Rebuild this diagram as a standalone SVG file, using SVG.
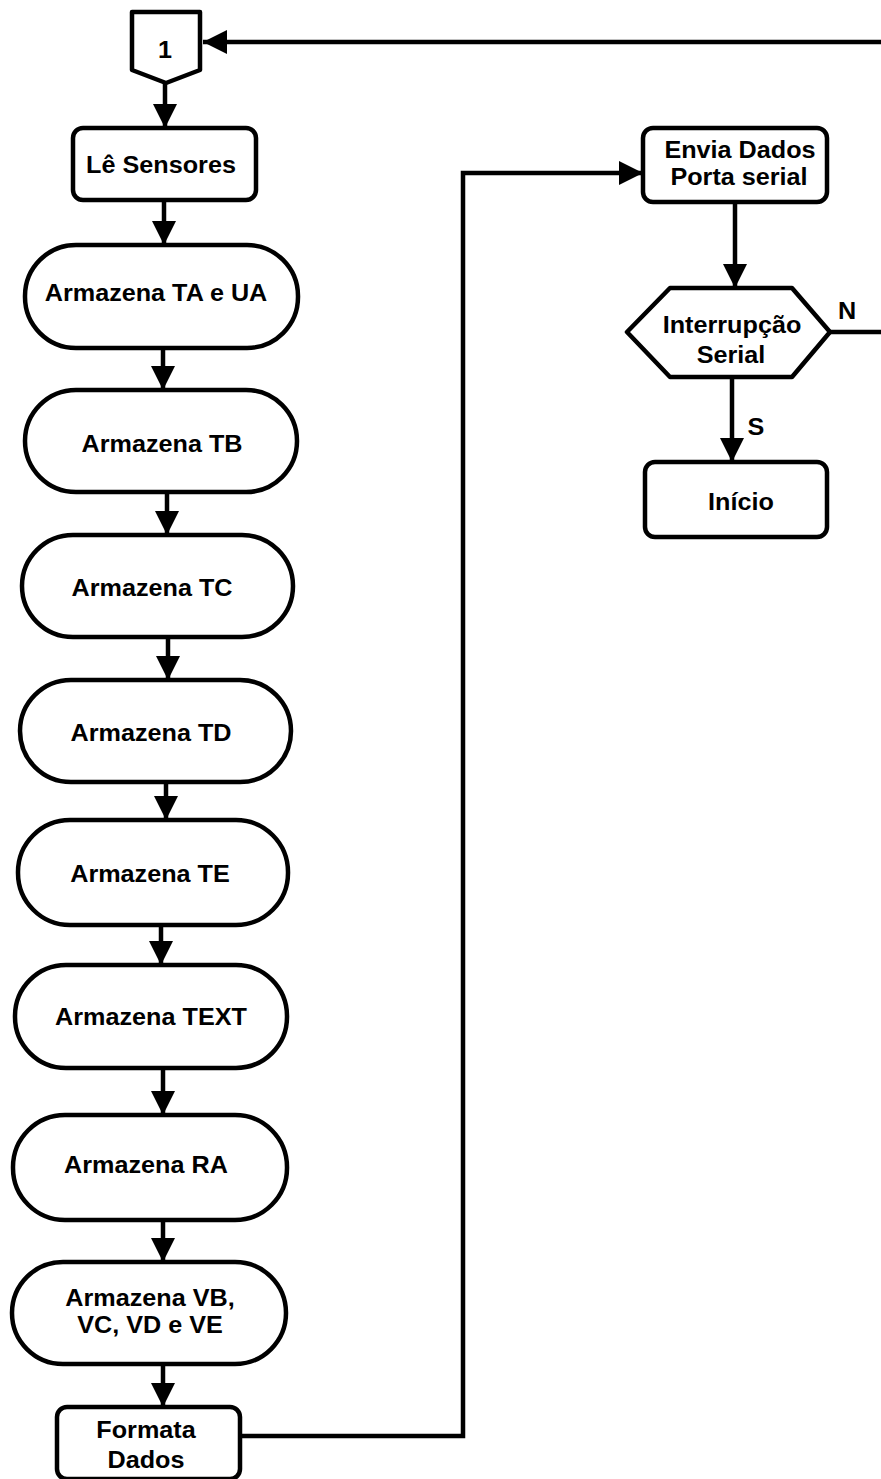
<svg xmlns="http://www.w3.org/2000/svg" width="881" height="1479" viewBox="0 0 881 1479">
  <style>
    .shape { fill: #fff; stroke: #000; stroke-width: 4.5; stroke-linejoin: round; }
    .line { fill: none; stroke: #000; stroke-width: 4.5; stroke-linejoin: miter; }
    .lbl { font-family: "Liberation Sans", Arial, sans-serif; font-weight: bold; font-size: 24px; fill: #000; text-anchor: middle; }
  </style>
  <defs>
    <marker id="arrow" viewBox="0 0 24 24" refX="24" refY="12" markerWidth="24" markerHeight="24" markerUnits="userSpaceOnUse" orient="auto">
      <path d="M0,0 L24,12 L0,24 Z" fill="#000"/>
    </marker>
  </defs>

  <!-- connectors -->
  <g id="connectors">
    <path class="line" d="M881,42 H203" marker-end="url(#arrow)"/>
    <path class="line" d="M165,83 V128" marker-end="url(#arrow)"/>
    <path class="line" d="M164,200 V245" marker-end="url(#arrow)"/>
    <path class="line" d="M163,348 V390" marker-end="url(#arrow)"/>
    <path class="line" d="M167,492 V535" marker-end="url(#arrow)"/>
    <path class="line" d="M168,637 V680" marker-end="url(#arrow)"/>
    <path class="line" d="M166,782 V820" marker-end="url(#arrow)"/>
    <path class="line" d="M161,925 V965" marker-end="url(#arrow)"/>
    <path class="line" d="M163,1068 V1115" marker-end="url(#arrow)"/>
    <path class="line" d="M163,1220 V1262" marker-end="url(#arrow)"/>
    <path class="line" d="M163,1364 V1407" marker-end="url(#arrow)"/>
    <path class="line" d="M240,1436 H463 V173 H643" marker-end="url(#arrow)"/>
    <path class="line" d="M735,202 V288" marker-end="url(#arrow)"/>
    <path class="line" d="M830,332 H881"/>
    <path class="line" d="M732,377 V462" marker-end="url(#arrow)"/>
  </g>

  <!-- off-page connector 1 -->
  <g id="n-conn1">
    <polygon class="shape" points="132,12 200,12 200,70 166,83 132,70"/>
    <text class="lbl" transform="translate(165,58) scale(1.05,1)">1</text>
  </g>

  <g id="n-le-sensores">
    <rect class="shape" x="73" y="128" width="183" height="72" rx="10"/>
    <text class="lbl" transform="translate(161,173) scale(1.05,1)">Lê Sensores</text>
  </g>

  <g id="n-ta-ua">
    <rect class="shape" x="25" y="245" width="273" height="103" rx="51"/>
    <text class="lbl" transform="translate(156,301) scale(1.05,1)">Armazena TA e UA</text>
  </g>

  <g id="n-tb">
    <rect class="shape" x="25" y="390" width="272" height="102" rx="51"/>
    <text class="lbl" transform="translate(162,452) scale(1.05,1)">Armazena TB</text>
  </g>

  <g id="n-tc">
    <rect class="shape" x="22" y="535" width="271" height="102" rx="51"/>
    <text class="lbl" transform="translate(152,596) scale(1.05,1)">Armazena TC</text>
  </g>

  <g id="n-td">
    <rect class="shape" x="20" y="680" width="271" height="102" rx="51"/>
    <text class="lbl" transform="translate(151,741) scale(1.05,1)">Armazena TD</text>
  </g>

  <g id="n-te">
    <rect class="shape" x="18" y="820" width="270" height="105" rx="52"/>
    <text class="lbl" transform="translate(150,882) scale(1.05,1)">Armazena TE</text>
  </g>

  <g id="n-text">
    <rect class="shape" x="15" y="965" width="272" height="103" rx="51"/>
    <text class="lbl" transform="translate(151,1025) scale(1.05,1)">Armazena TEXT</text>
  </g>

  <g id="n-ra">
    <rect class="shape" x="13" y="1115" width="274" height="105" rx="52"/>
    <text class="lbl" transform="translate(146,1173) scale(1.05,1)">Armazena RA</text>
  </g>

  <g id="n-vb-ve">
    <rect class="shape" x="12" y="1262" width="274" height="102" rx="51"/>
    <text class="lbl" transform="translate(150,1306) scale(1.05,1)">Armazena VB,</text>
    <text class="lbl" transform="translate(150,1333) scale(1.05,1)">VC, VD e VE</text>
  </g>

  <g id="n-formata">
    <rect class="shape" x="57" y="1407" width="183" height="72" rx="10"/>
    <text class="lbl" transform="translate(146,1438) scale(1.05,1)">Formata</text>
    <text class="lbl" transform="translate(146,1468) scale(1.05,1)">Dados</text>
  </g>

  <g id="n-envia">
    <rect class="shape" x="643" y="128" width="184" height="74" rx="10"/>
    <text class="lbl" transform="translate(740,158) scale(1.05,1)">Envia Dados</text>
    <text class="lbl" transform="translate(739,185) scale(1.05,1)">Porta serial</text>
  </g>

  <g id="n-interrupcao">
    <polygon class="shape" points="627,332 670,288 792,288 830,332 792,377 670,377"/>
    <text class="lbl" transform="translate(732,333) scale(1.05,1)">Interrupção</text>
    <text class="lbl" transform="translate(731,363) scale(1.05,1)">Serial</text>
  </g>

  <g id="n-inicio">
    <rect class="shape" x="645" y="462" width="182" height="75" rx="10"/>
    <text class="lbl" transform="translate(741,510) scale(1.05,1)">Início</text>
  </g>

  <!-- branch labels -->
  <text class="lbl" transform="translate(847,319) scale(1.05,1)">N</text>
  <text class="lbl" transform="translate(756,435) scale(1.05,1)">S</text>
</svg>
